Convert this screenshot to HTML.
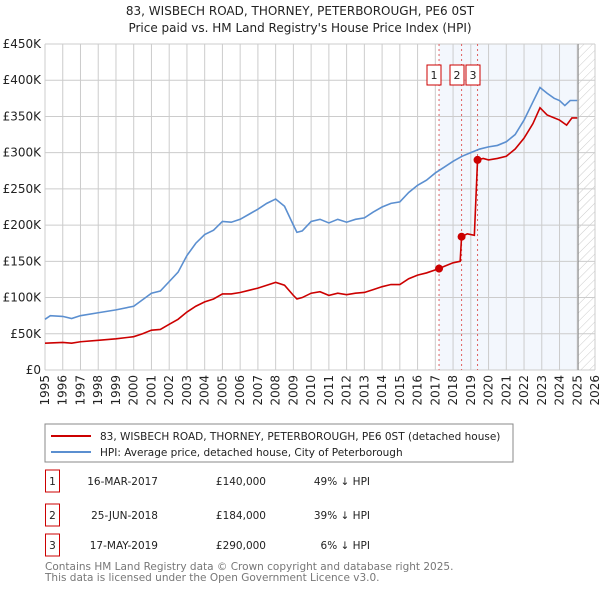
<!DOCTYPE html>
<html><head><meta charset="utf-8"><style>
body{margin:0;background:#fff;font-family:"Liberation Sans","DejaVu Sans",sans-serif;}
svg text{font-family:"DejaVu Sans","Liberation Sans",sans-serif;}
</style></head><body>
<svg id="c" width="600" height="590" xmlns="http://www.w3.org/2000/svg">
<defs><pattern id="h" width="6" height="6" patternUnits="userSpaceOnUse" patternTransform="rotate(45)"><line x1="0" y1="0" x2="0" y2="6" stroke="#ccc" stroke-width="1"/></pattern></defs>
<text x="300" y="15" text-anchor="middle" font-size="12" fill="#222">83, WISBECH ROAD, THORNEY, PETERBOROUGH, PE6 0ST</text>
<text x="300" y="32" text-anchor="middle" font-size="12" fill="#222">Price paid vs. HM Land Registry's House Price Index (HPI)</text>
<g id="grid"></g><g id="marks"></g>
<rect x="45" y="424" width="468" height="38" fill="none" stroke="#888"/>
<line x1="51" y1="436" x2="91" y2="436" stroke="#cc0000" stroke-width="2"/>
<text x="100" y="440" font-size="10.5" fill="#222">83, WISBECH ROAD, THORNEY, PETERBOROUGH, PE6 0ST (detached house)</text>
<line x1="51" y1="452" x2="91" y2="452" stroke="#5b8fd0" stroke-width="2"/>
<text x="100" y="456" font-size="10.5" fill="#222">HPI: Average price, detached house, City of Peterborough</text>
<g id="table" font-size="10.5" fill="#222"></g>
<text x="45" y="570" font-size="10.5" fill="#777">Contains HM Land Registry data © Crown copyright and database right 2025.</text>
<text x="45" y="581" font-size="10.5" fill="#777">This data is licensed under the Open Government Licence v3.0.</text>
</svg>
<script>
const hpiYears=[1995,1995.3,1996,1996.5,1997,1998,1999,2000,2000.5,2001,2001.5,2002,2002.5,2003,2003.5,2004,2004.5,2005,2005.5,2006,2006.5,2007,2007.5,2008,2008.5,2009,2009.2,2009.5,2010,2010.5,2011,2011.5,2012,2012.5,2013,2013.5,2014,2014.5,2015,2015.5,2016,2016.5,2017,2017.5,2018,2018.5,2019,2019.5,2020,2020.5,2021,2021.5,2022,2022.5,2022.9,2023.3,2023.7,2024,2024.3,2024.6,2025];
const hpiValues=[70,75,74,71,75,79,83,88,97,106,109,122,135,158,175,187,193,205,204,208,215,222,230,236,226,200,190,192,205,208,203,208,204,208,210,218,225,230,232,245,255,262,272,280,288,295,300,305,308,310,315,325,345,370,390,382,375,372,365,372,372];
const priceYears=[1995,1996,1996.5,1997,1998,1999,2000,2000.5,2001,2001.5,2002,2002.5,2003,2003.5,2004,2004.5,2005,2005.5,2006,2006.5,2007,2007.5,2008,2008.5,2009,2009.2,2009.5,2010,2010.5,2011,2011.5,2012,2012.5,2013,2013.5,2014,2014.5,2015,2015.5,2016,2016.5,2017.21,2017.5,2018,2018.4,2018.48,2018.8,2019.2,2019.38,2019.7,2020,2020.5,2021,2021.5,2022,2022.5,2022.9,2023.3,2023.7,2024,2024.4,2024.7,2025];
const priceValues=[37,38,37,39,41,43,46,50,55,56,63,70,80,88,94,98,105,105,107,110,113,117,121,117,103,98,100,106,108,103,106,104,106,107,111,115,118,118,126,131,134,140,143,148,150,184,188,186,290,292,290,292,295,305,320,340,362,352,348,345,338,348,348];
const saleLabels=["1","2","3"];
const saleYears=[2017.21,2018.48,2019.38];
const saleValues=[140,184,290];
const saleDates=["16-MAR-2017","25-JUN-2018","17-MAY-2019"];
const salePrices=["£140,000","£184,000","£290,000"];
const saleDiffs=["49% ↓ HPI","39% ↓ HPI","6% ↓ HPI"];
const yTicks=[0,50,100,150,200,250,300,350,400,450];
const yTickLabels=["£0","£50K","£100K","£150K","£200K","£250K","£300K","£350K","£400K","£450K"];
const xTicks=[1995,1996,1997,1998,1999,2000,2001,2002,2003,2004,2005,2006,2007,2008,2009,2010,2011,2012,2013,2014,2015,2016,2017,2018,2019,2020,2021,2022,2023,2024,2025,2026];

const NS="http://www.w3.org/2000/svg";
const L=45,R=595,T=44,B=370;
const x=v=>L+(v-1995)/31*(R-L);
const y=v=>B-v/450*(B-T);
function mk(tag,attrs,parent){const e=document.createElementNS(NS,tag);for(const k in attrs)e.setAttribute(k,attrs[k]);parent.appendChild(e);return e;}
const grid=document.getElementById('grid'),marks=document.getElementById('marks'),table=document.getElementById('table');
let r=mk('rect',{x:x(2017.21),y:T,width:x(2025.05)-x(2017.21),height:B-T,fill:'#eef3fc',opacity:0.7},grid);


r=mk('rect',{x:x(2025.05),y:T,width:R-x(2025.05),height:B-T,fill:'url(#h)'},grid);


yTicks.forEach((v,i)=>{
 const l=mk('line',{x1:L,x2:R,y1:y(v),y2:y(v),stroke:'#ccc'},grid);
 
 
 const t=mk('text',{x:L-4,y:y(v)+4,'text-anchor':'end','font-size':'12',fill:'#222'},grid);
 t.textContent=yTickLabels[i];
 
 
});
xTicks.forEach(v=>{
 const l=mk('line',{x1:x(v),x2:x(v),y1:T,y2:B,stroke:'#ccc'},grid);
 
 
 const t=mk('text',{transform:`translate(${x(v)+4},${B+5}) rotate(-90)`,'text-anchor':'end','font-size':'12',fill:'#222'},grid);
 t.textContent=v;
 
 
});
const edge=mk('line',{x1:x(2025.05),x2:x(2025.05),y1:T,y2:B,stroke:'#888'},grid);


saleYears.forEach((v,i)=>{
 const l=mk('line',{x1:x(v),x2:x(v),y1:T,y2:B,stroke:'#e06060','stroke-dasharray':'2,3'},marks);
 
 
});
const hp=mk('polyline',{points:hpiYears.map((v,i)=>x(v)+','+y(hpiValues[i])).join(' '),fill:'none',stroke:'#5b8fd0','stroke-width':1.6},marks);


const pp=mk('polyline',{points:priceYears.map((v,i)=>x(v)+','+y(priceValues[i])).join(' '),fill:'none',stroke:'#cc0000','stroke-width':1.6},marks);


const boxX=[427,450,466];
saleYears.forEach((v,i)=>{
 const c=mk('circle',{cx:x(v),cy:y(saleValues[i]),r:4,fill:'#cc0000'},marks);
 
 
 const b=mk('rect',{x:boxX[i],y:65,width:14,height:20,fill:'#fff',stroke:'#cc0000'},marks);
 
 
 const t=mk('text',{x:boxX[i]+7,y:79,'text-anchor':'middle','font-size':'11',fill:'#222'},marks);
 t.textContent=saleLabels[i];
 
 
 const ry=[481,515,545][i];
 const tb=mk('rect',{x:45.5,y:ry-11,width:14,height:22,fill:'#fff',stroke:'#cc0000'},table);
 
 
 const cells=[[52.5,saleLabels[i],'middle','table-index'],[158,saleDates[i],'end','table-date'],[266,salePrices[i],'end','table-price'],[370,saleDiffs[i],'end','table-hpi-diff']];
 cells.forEach(cl=>{
  const tt=mk('text',{x:cl[0],y:ry+4,'text-anchor':cl[2]},table);
  tt.textContent=cl[1];
  
  
 });
});
</script>
</body></html>
